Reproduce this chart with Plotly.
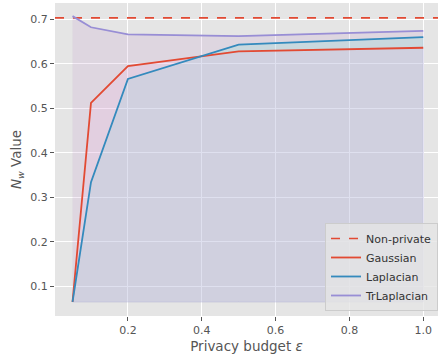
import plotly.graph_objects as go

eps = [0.05, 0.1, 0.2, 0.5, 1.0]
gaussian = [0.065, 0.512, 0.595, 0.628, 0.636]
laplacian = [0.065, 0.334, 0.566, 0.643, 0.660]
trlaplacian = [0.707, 0.682, 0.666, 0.662, 0.674]
non_private = 0.703

line_colors = {"Gaussian": "#E24A33", "Laplacian": "#348ABD", "TrLaplacian": "#988ED5"}
fill_colors = {"TrLaplacian": "rgba(182,129,196,0.15)",
               "Laplacian": "rgba(82,225,217,0.15)",
               "Gaussian": "rgba(248,165,231,0.15)"}
data = {"Gaussian": gaussian, "Laplacian": laplacian, "TrLaplacian": trlaplacian}
base = min(min(gaussian), min(laplacian), min(trlaplacian))

fig = go.Figure()
for name in ["TrLaplacian", "Laplacian", "Gaussian"]:
    ys = data[name]
    fc = fill_colors[name]
    fig.add_trace(go.Scatter(
        x=eps + eps[::-1], y=ys + [base] * len(eps), fill="toself",
        fillcolor=fc, line=dict(width=0.8, color=fc), mode="lines",
        showlegend=False, hoverinfo="skip"))

fig.add_trace(go.Scatter(
    x=[0.0025, 1.04], y=[non_private, non_private], mode="lines",
    line=dict(color="#E24A33", width=1.6, dash="dash"), name="Non-private"))
for name in ["Gaussian", "Laplacian", "TrLaplacian"]:
    fig.add_trace(go.Scatter(x=eps, y=data[name], mode="lines", name=name,
                             line=dict(color=line_colors[name], width=1.8)))

axis_common = dict(
    showgrid=True, gridcolor="white", gridwidth=1, zeroline=False,
    ticks="outside", ticklen=4, tickcolor="#555555", tickwidth=1,
    tickfont=dict(family="DejaVu Sans", size=11, color="#555555"),
    showline=False,
)
fig.update_xaxes(range=[0.0025, 1.04], tickvals=[0.2, 0.4, 0.6, 0.8, 1.0],
                 ticktext=["0.2", "0.4", "0.6", "0.8", "1.0"],
                 title=dict(text="Privacy budget <i>ε</i>", standoff=5,
                            font=dict(family="DejaVu Sans", size=13.5, color="#555555")),
                 **axis_common)
fig.update_yaxes(range=[0.0335, 0.7365], tickvals=[0.1, 0.2, 0.3, 0.4, 0.5, 0.6, 0.7],
                 ticktext=["0.1", "0.2", "0.3", "0.4", "0.5", "0.6", "0.7"],
                 title=dict(text="<i>N<sub>w</sub></i> Value", standoff=5,
                            font=dict(family="DejaVu Sans", size=13.5, color="#555555")),
                 **axis_common)

fig.update_layout(
    width=438, height=359,
    margin=dict(l=55, r=0, t=3, b=43),
    plot_bgcolor="#E5E5E5", paper_bgcolor="white",
    font=dict(family="DejaVu Sans", color="#333333"),
    legend=dict(x=1, y=0.016, xanchor="right", yanchor="bottom",
                bgcolor="rgba(229,229,229,0.8)", bordercolor="#CCCCCC", borderwidth=1,
                font=dict(family="DejaVu Sans", size=11, color="#333333"),
                tracegroupgap=0, itemwidth=30),
)

fig.write_html("out.html", config={"displayModeBar": False},
               post_script="document.body.style.margin='0px';")
